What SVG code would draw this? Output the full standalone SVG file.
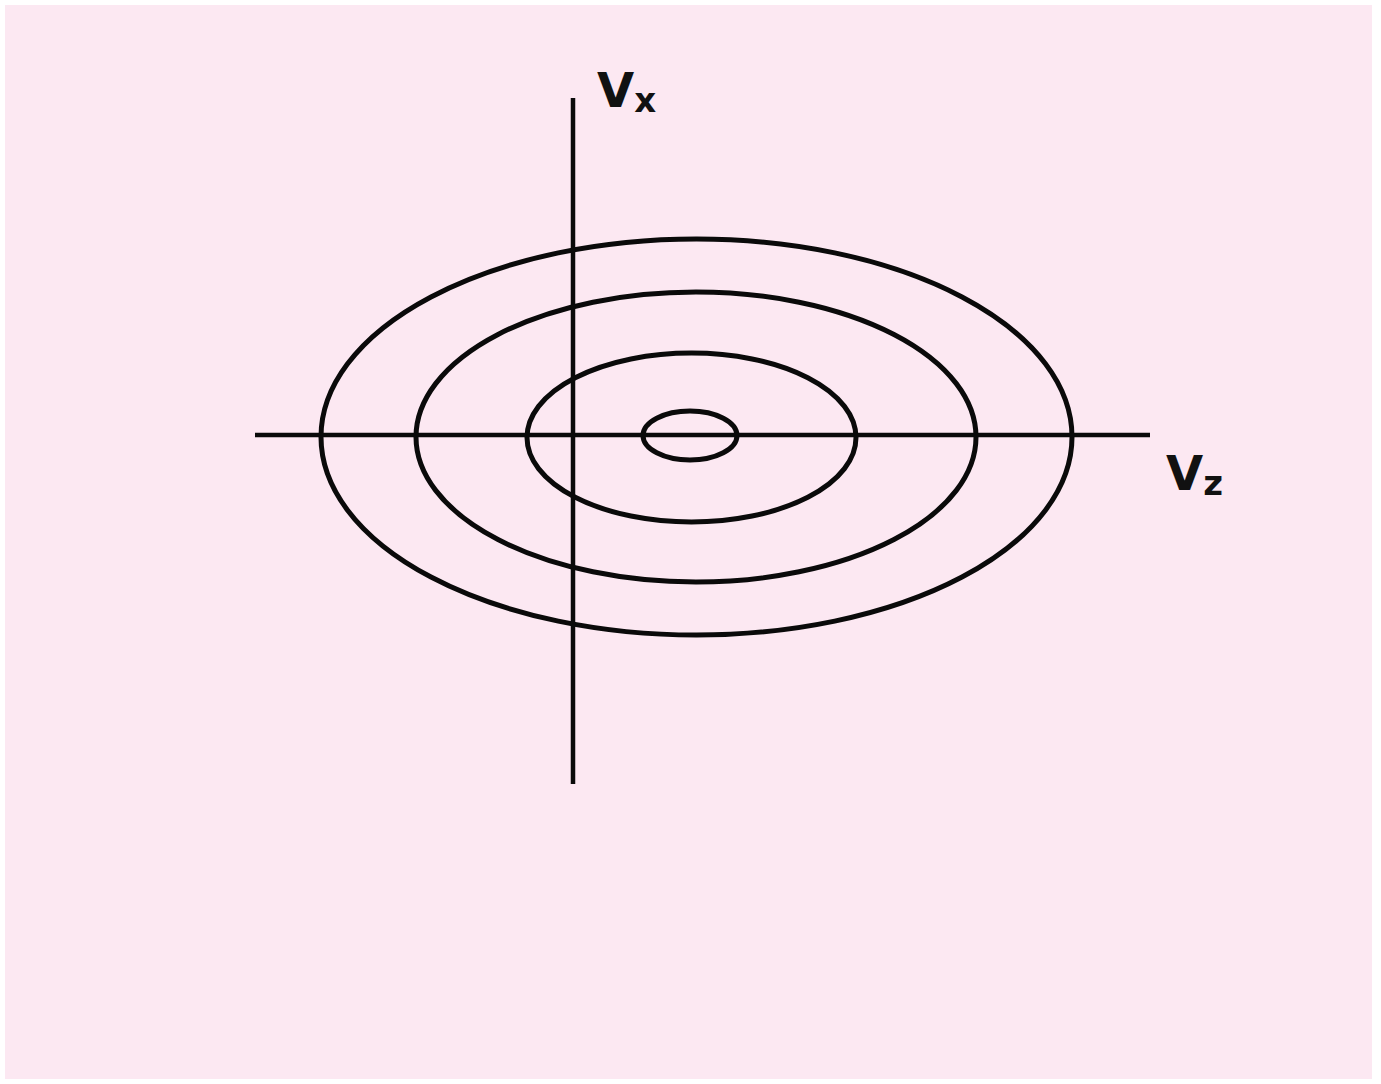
<svg xmlns="http://www.w3.org/2000/svg" width="1381" height="1084" viewBox="0 0 1381 1084">
  <style>
    .curve { fill: none; stroke: #0a0a0a; stroke-width: 5; }
    .axis { stroke: #0a0a0a; stroke-width: 4.5; stroke-linecap: butt; }
    .lbl { font-family: "DejaVu Sans", "Liberation Sans", sans-serif; font-weight: bold; fill: #111; }
  </style>
  <rect x="0" y="0" width="1381" height="1084" fill="#ffffff"/>
  <rect x="5" y="5" width="1367" height="1074" fill="#fce8f2"/>
  <g id="contours">
    <ellipse id="contour-1" class="curve" cx="696.5" cy="437" rx="375.5" ry="198"/>
    <ellipse id="contour-2" class="curve" cx="696" cy="437" rx="280" ry="145"/>
    <ellipse id="contour-3" class="curve" cx="691.5" cy="437.5" rx="164.5" ry="84.5"/>
    <ellipse id="contour-4" class="curve" cx="690" cy="435.5" rx="47" ry="24.5"/>
  </g>
  <g id="axes">
    <line class="axis" x1="255" y1="435" x2="1150" y2="435"/>
    <line class="axis" x1="573" y1="98" x2="573" y2="784"/>
  </g>
  <g id="label-vx">
    <text class="lbl" x="597" y="107" font-size="48">V<tspan font-size="34" dy="5" dx="0">x</tspan></text>
  </g>
  <g id="label-vz">
    <text class="lbl" x="1166" y="490" font-size="48">V<tspan font-size="34" dy="5" dx="0">z</tspan></text>
  </g>
</svg>
